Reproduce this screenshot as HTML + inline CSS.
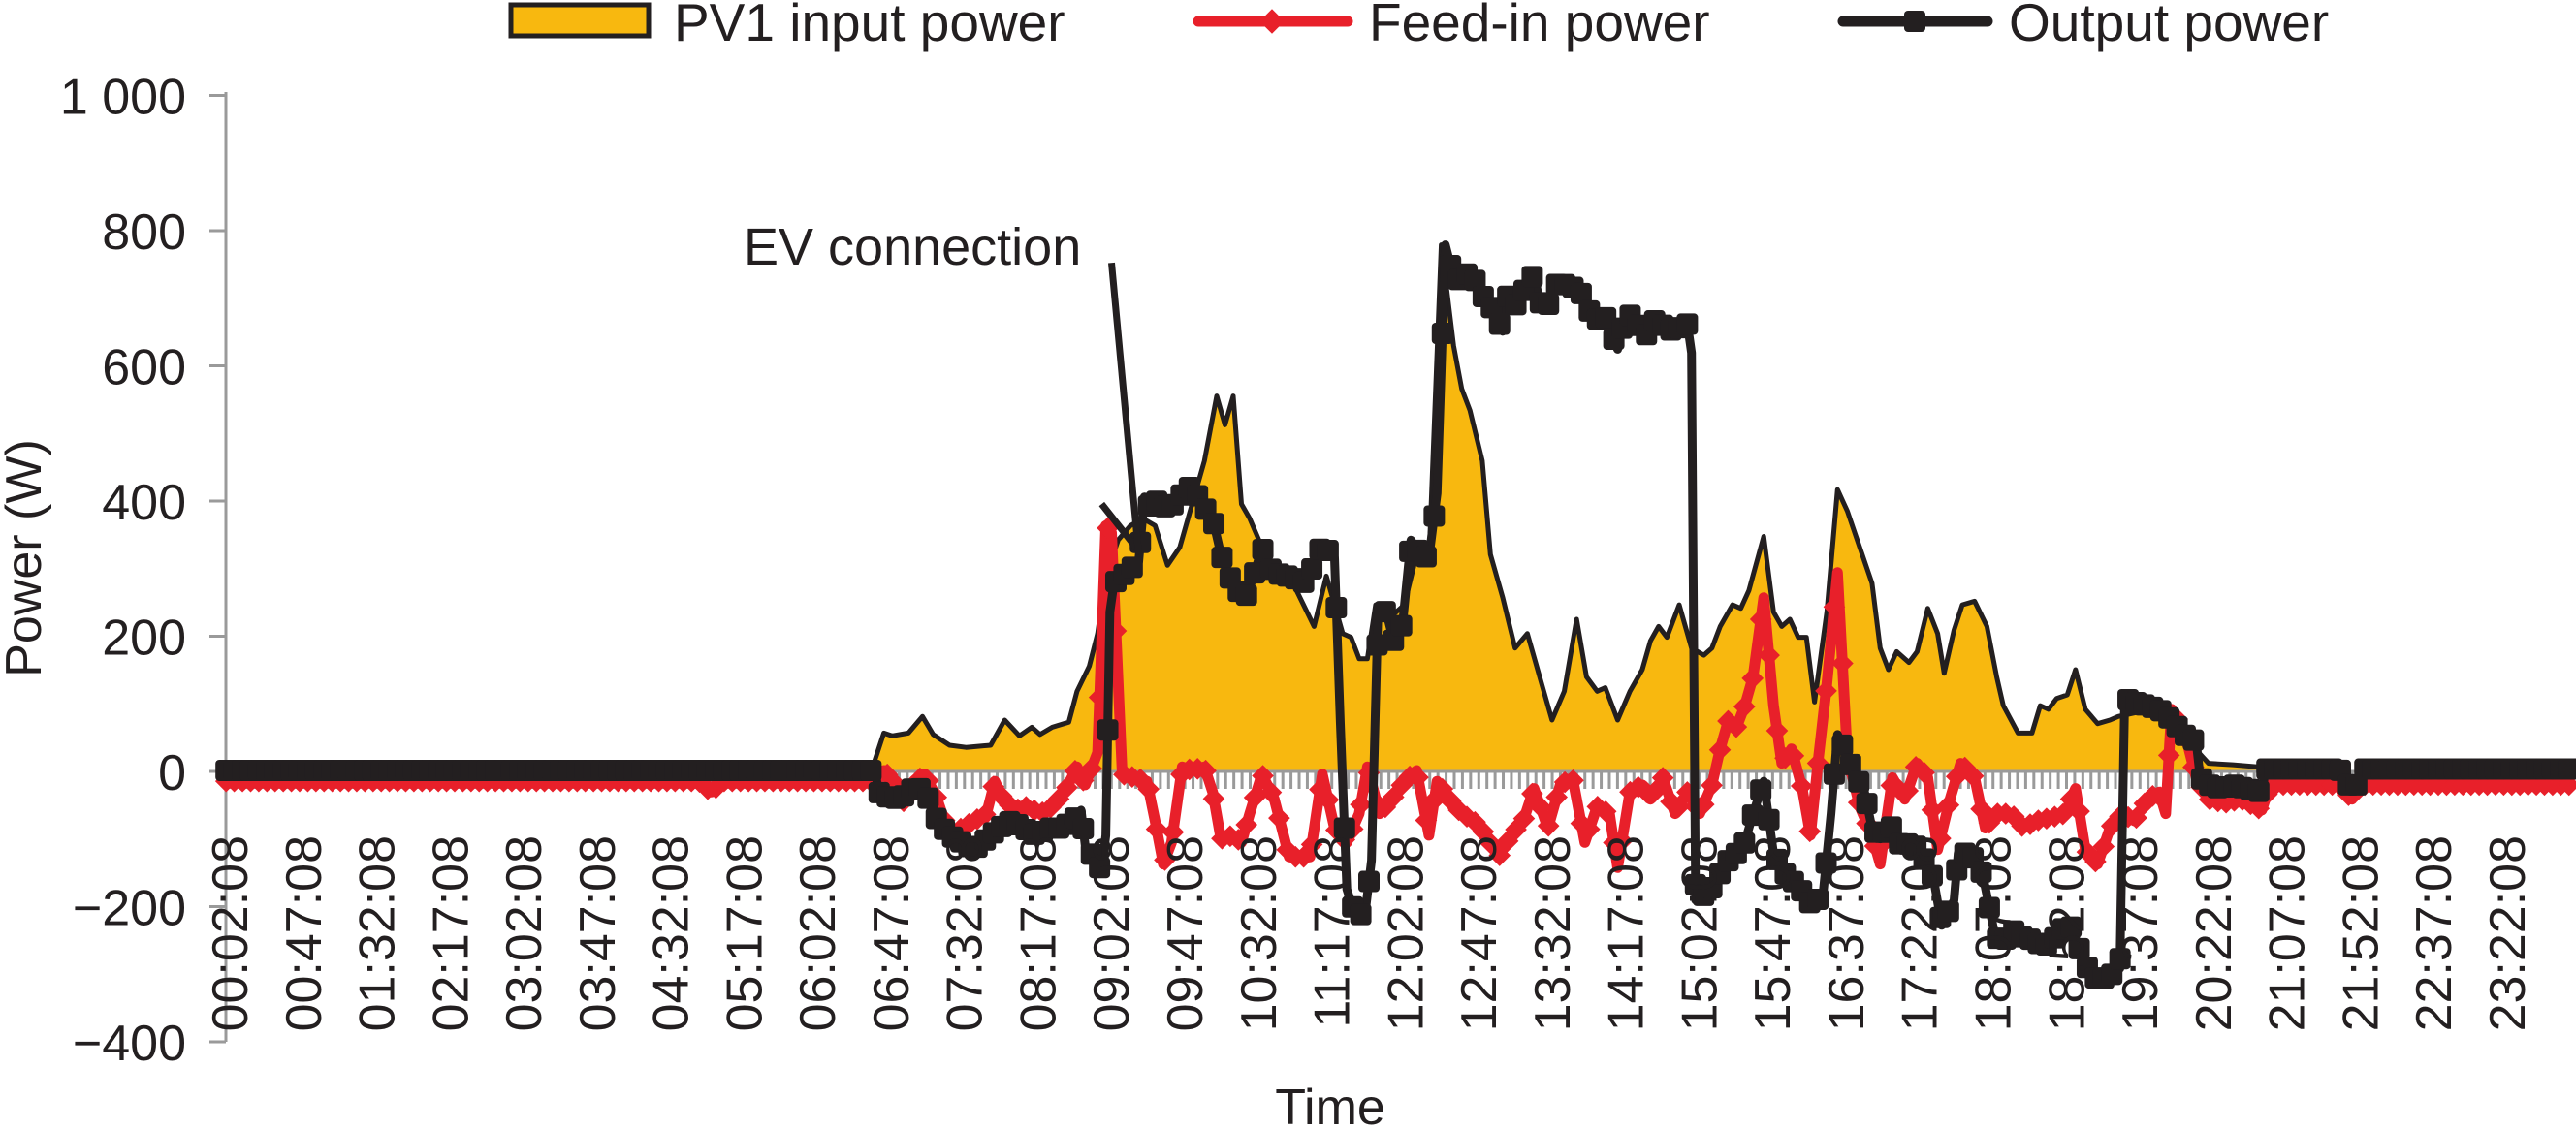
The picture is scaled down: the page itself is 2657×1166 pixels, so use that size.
<!DOCTYPE html>
<html><head><meta charset="utf-8"><style>
html,body{margin:0;padding:0;background:#fff;}
svg{display:block;font-family:"Liberation Sans",Arial,sans-serif;}
</style></head><body>
<svg id="s" width="2657" height="1166" viewBox="0 0 2657 1166" xmlns="http://www.w3.org/2000/svg">
<g id="g"></g>
</svg>
<script>
const NS="http://www.w3.org/2000/svg";
const g=document.getElementById('g');
function el(t,a,txt){const e=document.createElementNS(NS,t);for(const k in a)e.setAttribute(k,a[k]);if(txt!==undefined)e.textContent=txt;g.appendChild(e);return e;}
const YS=0.743;
function c1(p){return p.map(q=>[q[0]*0.848,q[1]*YS]);}
function c2(p){return p.map(q=>[1330+q[0]*0.8463,q[1]*YS]);}
const Y0=796;
function pts(a){return a.map(p=>p[0].toFixed(1)+','+p[1].toFixed(1)).join(' ');}

// PV
const pv=c1([[1060,1070],[1075,1018],[1085,1022],[1105,1018],[1122,995],[1135,1020],[1155,1035],[1175,1038],[1205,1035],[1222,1000],[1240,1022],[1255,1010],[1265,1020],[1280,1010],[1300,1003],[1310,960],[1325,925],[1335,880],[1345,800],[1360,750],[1375,730],[1390,720],[1405,730],[1420,785],[1435,760],[1450,700],[1465,640],[1480,550],[1490,590],[1500,550],[1510,700],[1520,720],[1535,760],[1548,800]]).concat(
c2([[0,800],[30,870],[45,800],[65,880],[75,885],[85,915],[95,915],[105,840],[120,860],[140,840],[155,770],[170,780],[185,340],[200,480],[210,540],[220,570],[235,640],[245,770],[260,830],[275,900],[290,880],[305,940],[320,1000],[335,960],[350,860],[362,940],[375,960],[385,955],[400,1000],[415,960],[430,930],[440,890],[450,870],[460,885],[475,840],[490,900],[505,910],[515,900],[525,870],[540,840],[550,845],[560,820],[578,745],[590,850],[600,870],[610,860],[620,885],[630,885],[640,975],[655,850],[668,680],[680,710],[695,760],[710,810],[720,900],[730,930],[740,905],[755,920],[765,905],[778,845],[790,880],[798,935],[810,875],[820,840],[835,835],[850,870],[862,940],[870,980],[888,1018],[905,1018],[915,980],[925,985],[935,970],[948,965],[958,930],[970,985],[985,1005],[1000,1000],[1010,995],[1050,985],[1080,1000],[1100,1035],[1120,1060],[1150,1062],[1180,1065],[1190,1070]]));
el('polygon',{points:pts(pv),fill:'#F8B80F',stroke:'none'});
el('polyline',{points:pts(pv),fill:'none',stroke:'#231F20','stroke-width':5,'stroke-linejoin':'round'});

// axes
el('line',{x1:233,y1:Y0,x2:2657,y2:Y0,stroke:'#9a9a9a','stroke-width':3});
for(let i=0;i<288;i++){const x=237+i*8.42;el('line',{x1:x,y1:Y0,x2:x,y2:814,stroke:'#9a9a9a','stroke-width':3});}
el('line',{x1:233,y1:95,x2:233,y2:1075,stroke:'#9a9a9a','stroke-width':3});
const yt=[[1000,'1 000'],[800,'800'],[600,'600'],[400,'400'],[200,'200'],[0,'0'],[-200,'\u2212200'],[-400,'\u2212400']];
yt.forEach(t=>{const y=Y0-t[0]*0.6975;el('line',{x1:216,y1:y,x2:233,y2:y,stroke:'#9a9a9a','stroke-width':3});
el('text',{x:192,y:y+19,'text-anchor':'end','font-size':52,fill:'#231F20'},t[1]);});
el('text',{x:0,y:0,transform:'translate(42,576) rotate(-90)','text-anchor':'middle','font-size':52,fill:'#231F20'},'Power (W)');

function resample(a,step){const out=[];const x0=a[0][0],x1=a[a.length-1][0];let j=0;for(let x=x0;x<=x1;x+=step){while(j<a.length-2&&a[j+1][0]<x)j++;const p=a[j],q=a[j+1];const t=q[0]===p[0]?0:(x-p[0])/(q[0]-p[0]);out.push([x,p[1]+(q[1]-p[1])*Math.max(0,Math.min(1,t))]);}return out;}
// red feed-in
const red=c1([[275,1085],[850,1085],[865,1100],[880,1085],[1060,1085],[1075,1070],[1090,1090],[1100,1115],[1110,1090],[1125,1075],[1140,1110],[1155,1160],[1170,1150],[1185,1140],[1200,1130],[1210,1085],[1220,1110],[1235,1125],[1250,1120],[1265,1130],[1280,1120],[1295,1100],[1310,1065],[1320,1090],[1335,1045],[1345,730],[1352,740],[1365,1075],[1380,1080],[1395,1085],[1405,1140],[1415,1200],[1425,1170],[1438,1065],[1450,1070],[1465,1065],[1475,1100],[1485,1165],[1500,1160],[1510,1170],[1520,1130],[1535,1075],[1550,1110],[1568,1190]]).concat(
c2([[10,1190],[25,1190],[40,1075],[55,1150],[70,1170],[85,1130],[95,1065],[110,1130],[125,1110],[140,1085],[155,1070],[170,1160],[180,1085],[195,1110],[210,1130],[225,1140],[240,1160],[255,1190],[270,1160],[285,1140],[298,1095],[315,1150],[330,1090],[345,1080],[360,1170],[375,1120],[390,1130],[400,1205],[415,1100],[430,1090],[440,1110],[455,1080],[470,1130],[485,1100],[500,1130],[515,1090],[525,1040],[535,1000],[545,1010],[555,980],[565,940],[578,830],[590,980],[600,1060],[612,1040],[625,1095],[635,1160],[645,1050],[655,950],[668,795],[680,1050],[695,1120],[710,1160],[720,1200],[735,1080],[750,1110],[765,1060],[778,1080],[790,1180],[805,1110],[818,1060],[835,1080],[848,1150],[862,1130],[880,1130],[895,1150],[910,1140],[930,1135],[945,1130],[958,1095],[970,1180],[985,1200],[1000,1150],[1015,1130],[1030,1140],[1045,1110],[1060,1100],[1068,1130],[1075,985],[1085,1005],[1095,1035],[1105,1080],[1120,1110],[1140,1115],[1160,1110],[1185,1125],[1195,1090],[1280,1090],[1295,1110],[1305,1090],[1565,1090]]));
el('polyline',{points:pts(red),fill:'none',stroke:'#E8202A','stroke-width':11,'stroke-linejoin':'round'});
resample(red,8.42).forEach(p=>el('rect',{x:p[0]-8,y:p[1]-8,width:16,height:16,fill:'#E8202A',transform:`rotate(45 ${p[0].toFixed(1)} ${p[1].toFixed(1)})`}));

// black output
const blk=c1([[275,1070],[1065,1070],[1068,1100],[1085,1110],[1100,1105],[1115,1090],[1130,1110],[1140,1140],[1155,1160],[1170,1170],[1185,1180],[1200,1165],[1215,1150],[1230,1140],[1245,1150],[1260,1160],[1275,1150],[1290,1150],[1305,1140],[1315,1125],[1320,1175],[1330,1190],[1340,1210],[1345,1160],[1350,850],[1355,810],[1365,800],[1375,790],[1385,780],[1392,690],[1400,710],[1410,690],[1420,710],[1435,690],[1445,675],[1458,690],[1468,710],[1475,720],[1485,770],[1495,800],[1505,820],[1515,830],[1525,800],[1535,760],[1545,790],[1560,800]]).concat(
c2([[0,800],[20,810],[40,755],[55,775],[62,1005],[70,1235],[80,1270],[92,1270],[100,1195],[108,845],[118,850],[128,895],[138,865],[148,750],[160,770],[170,775],[180,685],[190,340],[200,385],[210,390],[220,375],[235,410],[248,430],[260,460],[265,410],[275,425],[285,405],[298,380],[305,420],[315,425],[325,395],[335,395],[348,400],[358,410],[370,445],[385,440],[400,485],[410,430],[420,445],[435,465],[448,440],[460,460],[475,455],[485,450],[490,490],[495,1250],[510,1240],[520,1225],[530,1200],[545,1185],[555,1170],[565,1130],[578,1085],[590,1185],[605,1215],[620,1230],[635,1255],[650,1245],[660,1130],[668,1020],[680,1050],[690,1080],[700,1095],[710,1150],[720,1165],[730,1140],[745,1175],[760,1170],[770,1185],[785,1220],[795,1285],[810,1250],[815,1185],[830,1185],[845,1215],[860,1300],[870,1310],[880,1290],[890,1300],[905,1305],[920,1315],[935,1300],[950,1280],[960,1310],[970,1340],[985,1362],[1000,1355],[1012,1345],[1018,970],[1030,975],[1045,980],[1060,985],[1075,1000],[1090,1020],[1105,1030],[1110,1080],[1120,1090],[1135,1095],[1150,1090],[1165,1095],[1185,1100],[1190,1068],[1280,1068],[1290,1090],[1305,1090],[1310,1068],[1565,1068]]));
el('polyline',{points:pts(blk),fill:'none',stroke:'#231F20','stroke-width':9,'stroke-linejoin':'round'});
resample(blk,8.42).forEach(p=>el('rect',{x:p[0]-11,y:p[1]-11,width:22,height:22,rx:4,fill:'#231F20'}));
// extra segment & annotation
const seg=c1([[1340,700],[1385,765]]);
el('line',{x1:seg[0][0],y1:seg[0][1],x2:seg[1][0],y2:seg[1][1],stroke:'#231F20','stroke-width':7});
const an=c1([[1352,365],[1385,770]]);
el('line',{x1:an[0][0],y1:an[0][1],x2:an[1][0],y2:an[1][1],stroke:'#231F20','stroke-width':7});
el('text',{x:767,y:273,'font-size':54,fill:'#231F20'},'EV connection');

// x labels
const labs=['00:02:08','00:47:08','01:32:08','02:17:08','03:02:08','03:47:08','04:32:08','05:17:08','06:02:08','06:47:08','07:32:08','08:17:08','09:02:08','09:47:08','10:32:08','11:17:08','12:02:08','12:47:08','13:32:08','14:17:08','15:02:08','15:47:08','16:37:08','17:22:08','18:07:08','18:52:08','19:37:08','20:22:08','21:07:08','21:52:08','22:37:08','23:22:08'];
labs.forEach((l,k)=>{const x=237+k*75.77+18;el('text',{x:0,y:0,transform:`translate(${x.toFixed(1)},862) rotate(-90)`,'text-anchor':'end','font-size':52,fill:'#231F20'},l);});
el('text',{x:1372,y:1160,'text-anchor':'middle','font-size':52,fill:'#231F20'},'Time');

// legend
el('rect',{x:527,y:5,width:142,height:32,fill:'#F8B80F',stroke:'#231F20','stroke-width':5});
el('text',{x:695,y:42,'font-size':55,fill:'#231F20'},'PV1 input power');
el('line',{x1:1236,y1:22,x2:1390,y2:22,stroke:'#E8202A','stroke-width':11,'stroke-linecap':'round'});
el('rect',{x:1303,y:13,width:18,height:18,fill:'#E8202A',transform:'rotate(45 1312 22)'});
el('text',{x:1412,y:42,'font-size':55,fill:'#231F20'},'Feed-in power');
el('line',{x1:1901,y1:22,x2:2050,y2:22,stroke:'#231F20','stroke-width':11,'stroke-linecap':'round'});
el('rect',{x:1964,y:11,width:22,height:22,rx:4,fill:'#231F20'});
el('text',{x:2072,y:42,'font-size':55,fill:'#231F20'},'Output power');
</script>
</body></html>
